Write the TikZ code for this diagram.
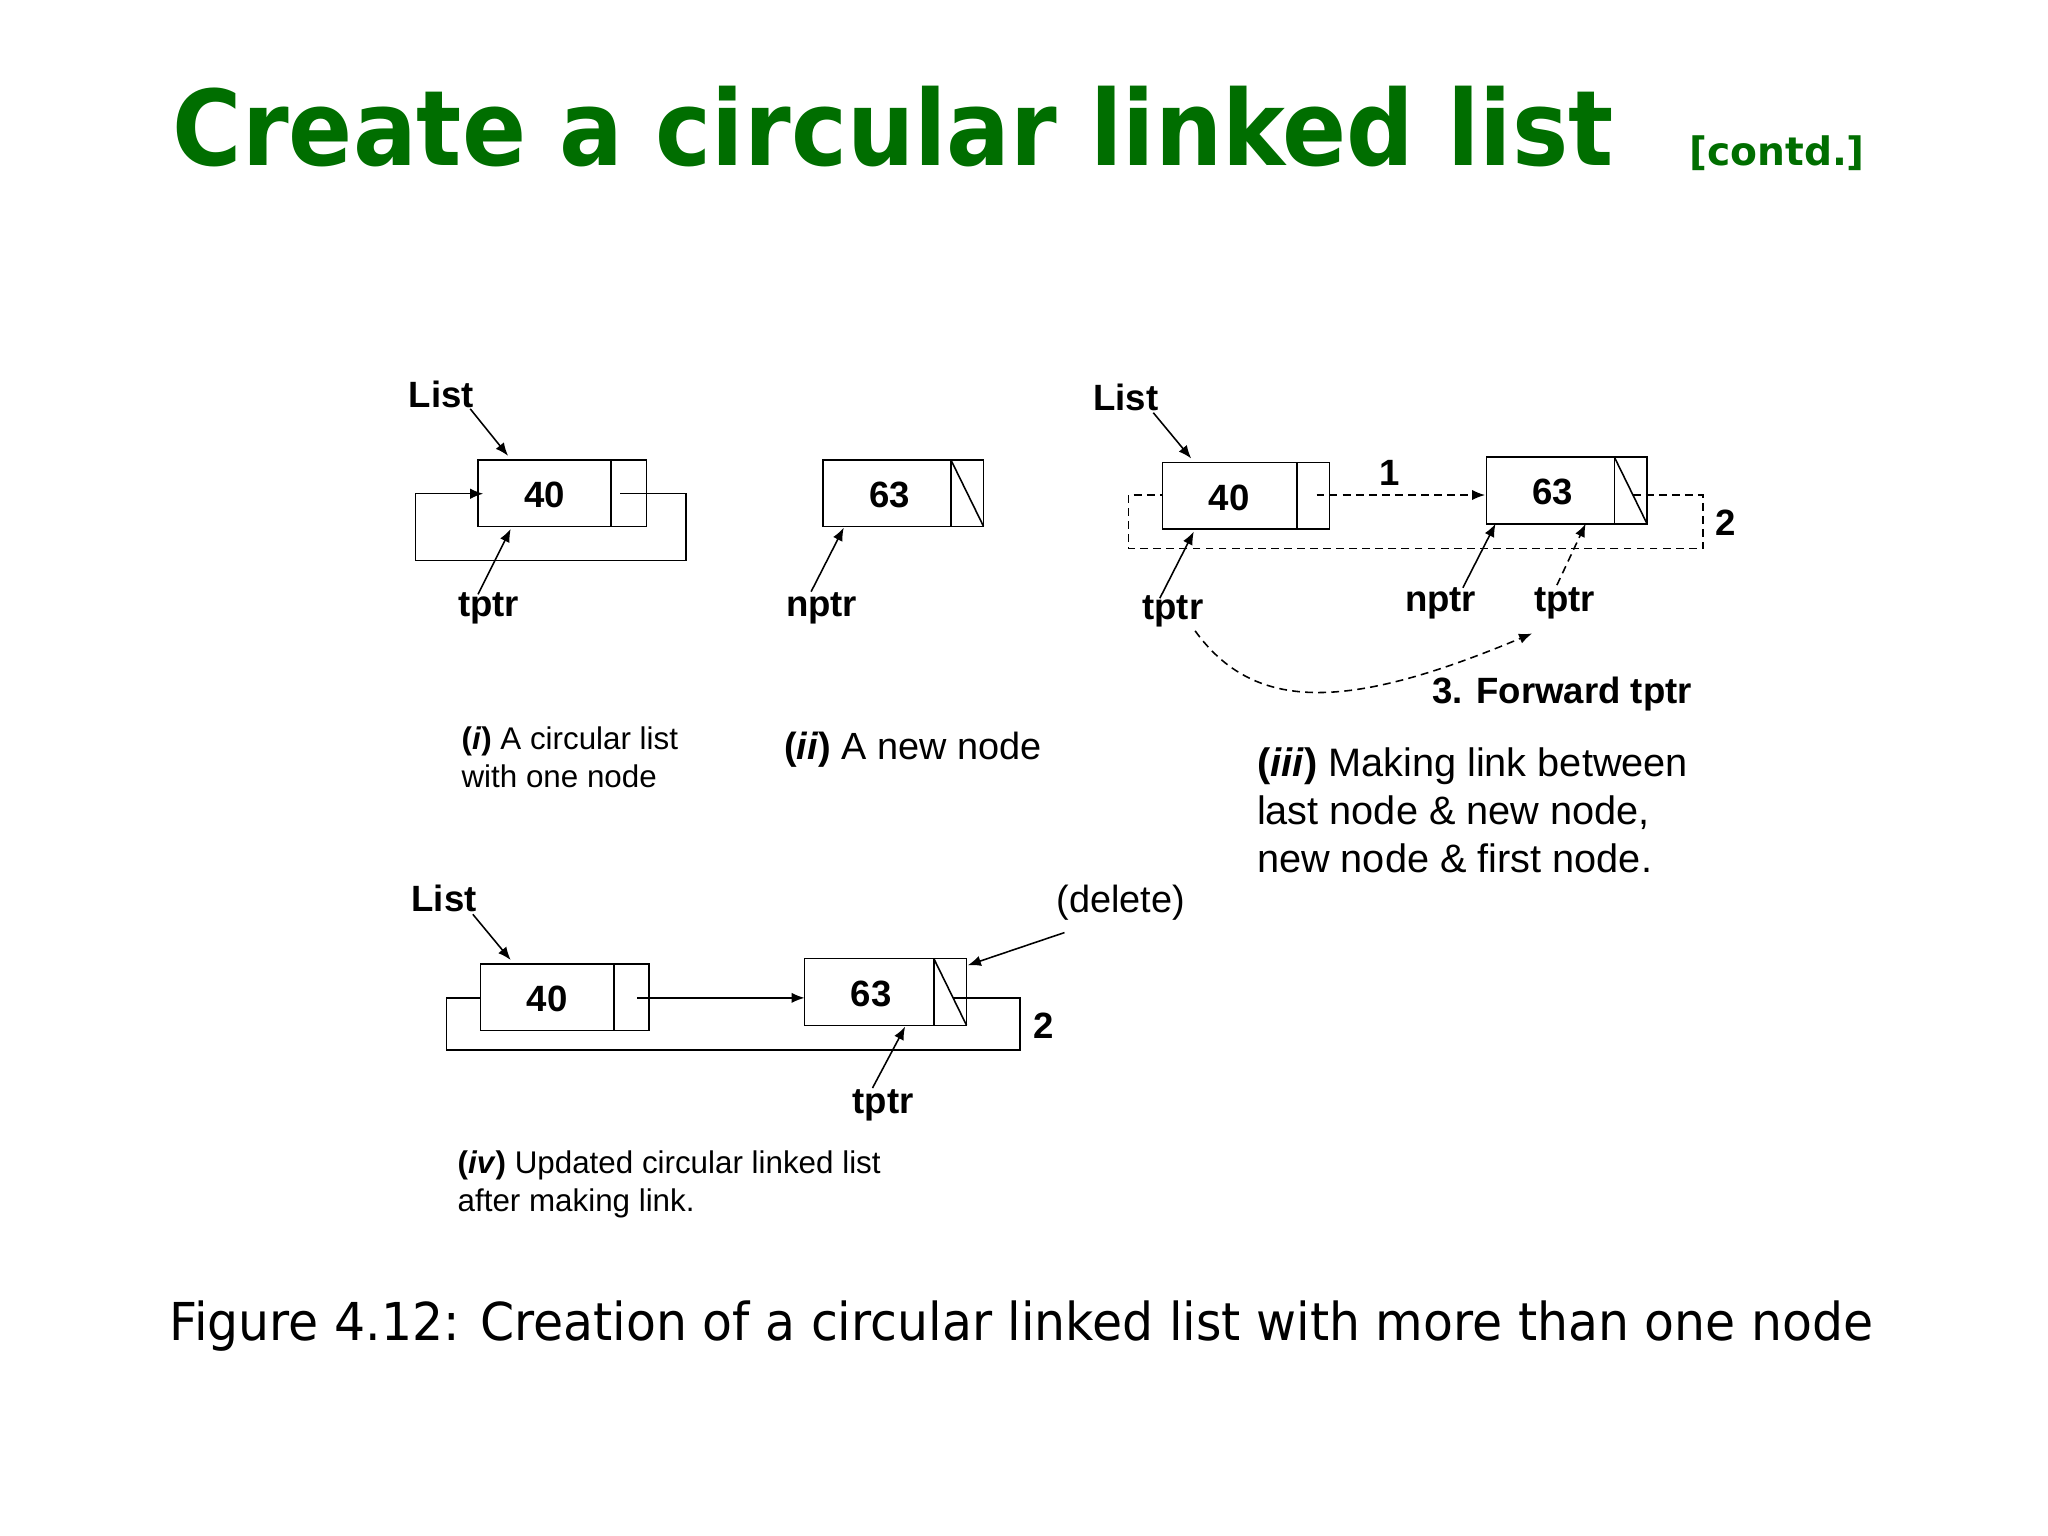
\documentclass[tikz,border=0pt]{standalone}
\usepackage{fontspec}
\setmainfont{Liberation Sans}
\newfontfamily\tfont{DejaVu Sans}
\usetikzlibrary{arrows.meta}
\definecolor{tgreen}{RGB}{0,110,0}
\begin{document}
\begin{tikzpicture}[x=0.5pt,y=-0.5pt,
  ar/.style={-{Latex[length=5pt,width=4pt]},line width=0.6pt},
  ln/.style={line width=0.6pt},
  dsh/.style={line width=0.6pt,dash pattern=on 3pt off 2pt},
  lab/.style={font=\fontsize{14}{16}\selectfont\bfseries,inner sep=1pt},
  captxt/.style={font=\fontsize{12}{14.5}\selectfont,align=left,anchor=north west,inner sep=0pt},
  cell/.style={draw,line width=0.6pt}]
\useasboundingbox (0,0) rectangle (1568,1176);
\node[font=\tfont\fontsize{40}{44}\selectfont\bfseries,text=tgreen,anchor=base west,inner sep=0pt] (title) at (132,127) {\scalebox{0.905}[1]{Create a circular linked list}};
\node[font=\tfont\fontsize{15}{18}\selectfont\bfseries,text=tgreen,anchor=base west,inner sep=0pt] (contd) at (1293,127) {[contd.]};
% (i)
\draw[cell] (366,352) rectangle (468,403); \draw[cell] (468,352) rectangle (495,403);
\node[lab] (n40a) at (417,379) {40};
\node[lab] (lista) at (338,302) {List};
\draw[ar] (360,313) -- (389,349);
\draw[ln,-{Latex[length=5pt,width=4pt]}] (475,378) -- (525,378) -- (525,429) -- (318,429) -- (318,378) -- (370,378);
\node[lab] (tptra) at (374,466) {tptr};
\draw[ar] (366,455) -- (391,405);
\node[captxt] (capi) at (353,556) {\textbf{(\textit{i})} A circular list\\with one node};
% (ii)
\draw[cell] (630,352) rectangle (728,403); \draw[cell] (728,352) rectangle (753,403);
\draw[ln] (728,352) -- (753,403);
\node[lab] (n63b) at (681,379) {63};
\node[lab] (nptrb) at (629,466) {nptr};
\draw[ar] (621,453) -- (646,404);
\node[captxt,font=\fontsize{14.5}{17}\selectfont] (capii) at (600,560) {\textbf{(\textit{ii})} A new node};
% (iii)
\draw[cell] (890,354) rectangle (993,405); \draw[cell] (993,354) rectangle (1018,405);
\node[lab] (n40c) at (941,381) {40};
\draw[cell] (1138,350) rectangle (1236,401); \draw[cell] (1236,350) rectangle (1261,401);
\draw[ln] (1236,350) -- (1261,401);
\node[lab] (n63c) at (1189,377) {63};
\node[lab] (listc) at (862,304) {List};
\draw[ar] (883,316) -- (912,351);
\draw[dsh,-{Latex[length=5pt,width=4pt]}] (1008,379) -- (1137,379);
\node[lab] (one) at (1064,362) {1};
\draw[dsh] (1250,379) -- (1304,379) -- (1304,420) -- (864,420) -- (864,379) -- (890,379);
\node[lab] (twoc) at (1321,400) {2};
\node[lab] (tptrc) at (898,468) {tptr};
\draw[ar] (888,458) -- (914,407);
\node[lab] (nptrc) at (1103,462) {nptr};
\draw[ar] (1120,450) -- (1145,401);
\node[lab] (tptrd) at (1198,462) {tptr};
\draw[dsh,-{Latex[length=5pt,width=4pt]}] (1192,448) -- (1214,401);
\draw[dsh,-{Latex[length=5pt,width=4pt]}] (915,483) .. controls (960,545) and (1030,545) .. (1173,485);
\node[lab] (fwd) at (1196,531) {3. Forward tptr};
\node[captxt,font=\fontsize{15.2}{18.3}\selectfont] (capiii) at (962,572) {\textbf{(\textit{iii})} Making link between\\last node \& new node,\\new node \& first node.};
% (iv)
\draw[cell] (368,738) rectangle (470,789); \draw[cell] (470,738) rectangle (497,789);
\node[lab] (n40d) at (419,765) {40};
\draw[cell] (616,734) rectangle (715,785); \draw[cell] (715,734) rectangle (740,785);
\draw[ln] (715,734) -- (740,785);
\node[lab] (n63d) at (667,761) {63};
\node[lab] (listd) at (340,688) {List};
\draw[ar] (362,700) -- (391,735);
\draw[ar] (488,764) -- (616,764);
\draw[ln] (730,764) -- (781,764) -- (781,804) -- (342,804) -- (342,764) -- (368,764);
\node[lab] (twod) at (799,785) {2};
\node[font=\fontsize{14.5}{17}\selectfont] (del) at (858,691) {(delete)};
\draw[ar] (815,714) -- (741,739);
\node[lab] (tptre) at (676,846) {tptr};
\draw[ar] (668,833) -- (693,786);
\node[captxt] (capiv) at (350,881) {\textbf{(\textit{iv})} Updated circular linked list\\after making link.};
% caption
\node[font=\tfont\fontsize{20}{24}\selectfont] (fig) at (782,1015) {\scalebox{0.936}[1]{Figure 4.12: Creation of a circular linked list with more than one node}};
\end{tikzpicture}
\end{document}
